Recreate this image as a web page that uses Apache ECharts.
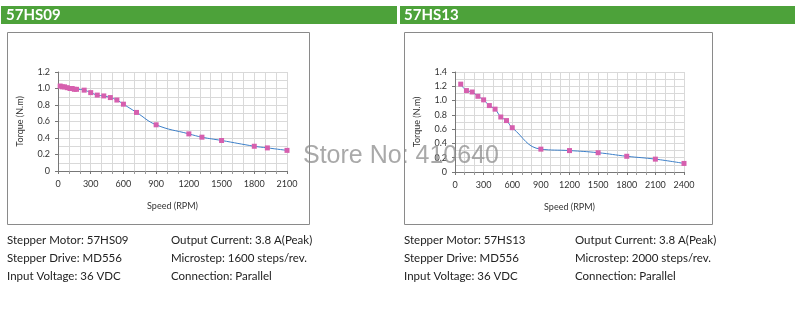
<!DOCTYPE html>
<html><head><meta charset="utf-8">
<script src="https://cdn.jsdelivr.net/npm/echarts@6/dist/echarts.min.js"></script>
<style>html,body{margin:0;padding:0;background:#fff}#c{width:800px;height:312px}</style>
</head><body><div id="c"></div>
<script>
// 57HS09 data
const speedA = [20, 40, 60, 85, 110, 130, 150, 170, 240, 300, 360, 420, 480, 540, 600, 720, 900, 1200, 1320, 1500, 1800, 1920, 2100];
const torqueA = [1.03, 1.02, 1.02, 1.01, 1.00, 1.00, 0.99, 0.99, 0.98, 0.95, 0.92, 0.91, 0.89, 0.86, 0.81, 0.71, 0.56, 0.45, 0.41, 0.37, 0.30, 0.28, 0.25];
// 57HS13 data
const speedB = [60, 120, 180, 240, 300, 360, 420, 480, 540, 600, 900, 1200, 1500, 1800, 2100, 2400];
const torqueB = [1.23, 1.14, 1.12, 1.06, 1.01, 0.93, 0.88, 0.77, 0.72, 0.62, 0.32, 0.30, 0.27, 0.22, 0.18, 0.12];
const titles = ['57HS09', '57HS13'];
const infoA = [['Stepper Motor: 57HS09', 'Stepper Drive: MD556', 'Input Voltage: 36 VDC'], ['Output Current: 3.8 A(Peak)', 'Microstep: 1600 steps/rev.', 'Connection: Parallel']];
const infoB = [['Stepper Motor: 57HS13', 'Stepper Drive: MD556', 'Input Voltage: 36 VDC'], ['Output Current: 3.8 A(Peak)', 'Microstep: 2000 steps/rev.', 'Connection: Parallel']];
const xMaxA = 2100, xMaxB = 2400, yMaxA = 1.2, yMaxB = 1.4;
const watermark = 'Store No: 410640';

const chart = echarts.init(document.getElementById('c'), null, {renderer: 'canvas'});
const lineColor = '#3c7fc8', markColor = '#d65fae', gridColor = '#d9d9d9';
const fontF = 'Lato, "Open Sans", sans-serif';

function xAxis(idx, max) {
  return {
    gridIndex: idx, type: 'value', min: 0, max: max, interval: 300,
    name: 'Speed (RPM)', nameLocation: 'middle', nameGap: 31,
    nameTextStyle: {fontSize: 9, color: '#333', fontFamily: fontF},
    axisLine: {lineStyle: {color: '#777', width: 1}},
    axisTick: {show: true, length: 3, lineStyle: {color: '#777'}},
    minorTick: {show: true, splitNumber: 3, length: 3, lineStyle: {color: '#999'}},
    axisLabel: {fontSize: 9, color: '#333', margin: 9, fontFamily: fontF, formatter: v => String(v)},
    splitLine: {show: true, lineStyle: {color: gridColor}},
    minorSplitLine: {show: true, lineStyle: {color: gridColor}}
  };
}
function yAxis(idx, max) {
  return {
    gridIndex: idx, type: 'value', min: 0, max: max, interval: 0.2,
    name: 'Torque (N.m)', nameLocation: 'middle', nameGap: 33, nameRotate: 90,
    nameTextStyle: {fontSize: 9, color: '#333', fontFamily: fontF},
    axisLine: {show: true, lineStyle: {color: '#777', width: 1}},
    axisTick: {show: true, length: 3, lineStyle: {color: '#777'}},
    minorTick: {show: false, splitNumber: 2},
    axisLabel: {fontSize: 9, color: '#333', margin: 8, fontFamily: fontF,
      formatter: v => v === 0 ? '0' : v.toFixed(1)},
    splitLine: {show: true, lineStyle: {color: gridColor}},
    minorSplitLine: {show: true, lineStyle: {color: gridColor}}
  };
}
function series(idx, xs, ys) {
  return {
    type: 'line', xAxisIndex: idx, yAxisIndex: idx,
    data: xs.map((x, i) => [x, ys[i]]),
    smooth: 0.45, symbol: 'rect', symbolSize: 5, showSymbol: true,
    lineStyle: {color: lineColor, width: 1},
    itemStyle: {color: markColor, borderWidth: 0},
    animation: false, z: 3
  };
}

const graphics = [];
// header bars
graphics.push({type: 'rect', shape: {x: 1, y: 6, width: 396, height: 18}, style: {fill: '#4da23a'}, z: 1});
graphics.push({type: 'rect', shape: {x: 400, y: 6, width: 395, height: 18}, style: {fill: '#4da23a'}, z: 1});
graphics.push({type: 'text', x: 6, y: 15, style: {text: titles[0], fill: '#fff', font: 'bold 15px Lato, sans-serif', textVerticalAlign: 'middle'}, z: 2});
graphics.push({type: 'text', x: 404, y: 15, style: {text: titles[1], fill: '#fff', font: 'bold 15px Lato, sans-serif', textVerticalAlign: 'middle'}, z: 2});
// chart boxes
graphics.push({type: 'rect', shape: {x: 7.5, y: 32.5, width: 302, height: 192}, style: {fill: null, stroke: '#8a8a8a', lineWidth: 1}, z: 0});
graphics.push({type: 'rect', shape: {x: 404.5, y: 32.5, width: 308, height: 192}, style: {fill: null, stroke: '#8a8a8a', lineWidth: 1}, z: 0});
// info text
function addInfo(info, x0, x1) {
  info[0].forEach((t, i) => graphics.push({type: 'text', x: x0, y: 240 + i * 18, style: {text: t, fill: '#222', font: '11.5px ' + fontF, textVerticalAlign: 'middle'}}));
  info[1].forEach((t, i) => graphics.push({type: 'text', x: x1, y: 240 + i * 18, style: {text: t, fill: '#222', font: '11.5px ' + fontF, textVerticalAlign: 'middle'}}));
}
addInfo(infoA, 7, 171);
addInfo(infoB, 404, 575);
// watermark
graphics.push({type: 'text', x: 303, y: 156, style: {text: watermark, fill: 'rgba(140,140,140,0.75)', font: '25px "Liberation Sans", Arial, sans-serif', textVerticalAlign: 'middle'}, z: 100});

chart.setOption({
  animation: false,
  grid: [
    {left: 58, top: 72, width: 229, height: 99},
    {left: 455, top: 72, width: 229, height: 100}
  ],
  xAxis: [xAxis(0, xMaxA), xAxis(1, xMaxB)],
  yAxis: [yAxis(0, yMaxA), yAxis(1, yMaxB)],
  series: [series(0, speedA, torqueA), series(1, speedB, torqueB)],
  graphic: graphics
});
</script></body></html>
